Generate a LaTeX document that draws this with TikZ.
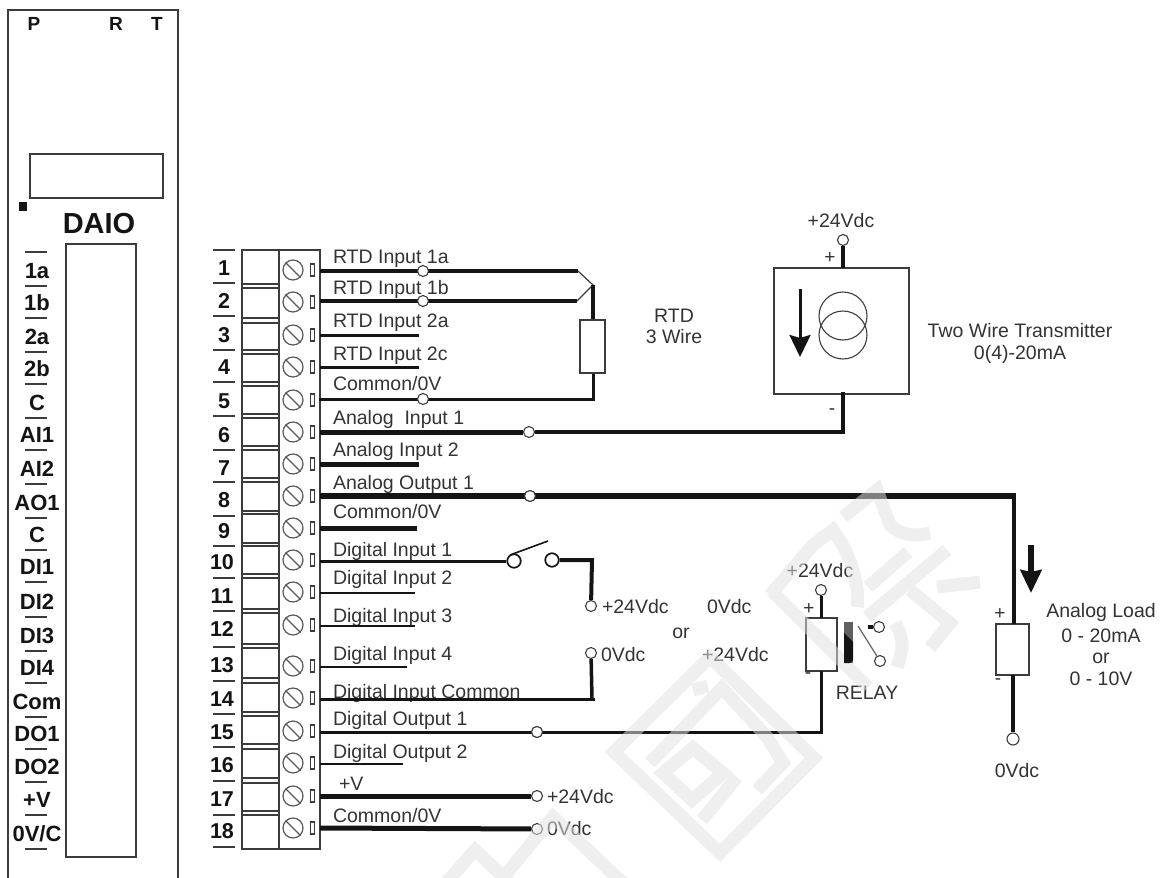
\documentclass[tikz,border=0pt]{standalone}
\usepackage{fontspec}
\setmainfont{Liberation Sans}
\usetikzlibrary{arrows.meta}
\definecolor{ink}{HTML}{141414}
\definecolor{txt}{HTML}{333333}
\definecolor{frame}{HTML}{3C3C3C}
\definecolor{mark}{HTML}{E0E0E0}
\tikzset{
  lab/.style={inner sep=0pt,outer sep=0pt,text=txt,font=\fontsize{19.5}{22}\selectfont},
  labl/.style={lab,anchor=base west},
  labc/.style={lab,anchor=base},
  pm/.style={lab,anchor=center,font=\fontsize{19}{20}\selectfont},
  num/.style={inner sep=0pt,anchor=base,text=ink,font=\bfseries\fontsize{21.5}{22}\selectfont},
  side/.style={inner sep=0pt,anchor=base,text=ink,font=\bfseries\fontsize{22}{22}\selectfont},
  bar/.style={draw=frame,line width=1.3pt},
  box/.style={draw=frame,line width=1.4pt,fill=white},
  term/.style={circle,draw=frame,fill=white,line width=1.1pt,minimum size=11pt,inner sep=0pt},
  bigterm/.style={term,minimum size=13.5pt,line width=1.7pt,draw=ink},
  wire/.style={draw=ink,line width=3pt},
  thinw/.style={draw=ink,line width=2.4pt},
  thick w/.style={draw=ink,line width=5pt},
  screw/.style={circle,draw=frame!85,line width=1.2pt,minimum size=20pt,inner sep=0pt},
}
\begin{document}
\begin{tikzpicture}[x=1pt,y=-1pt]
\useasboundingbox (0,0) rectangle (1162,878);
% left instrument panel
\draw[draw=frame,line width=1.6pt] (8,878) -- (8,10) -- (178,10) -- (178,878);
\node[side,font=\bfseries\fontsize{19}{20}\selectfont] (lp) at (34,30) {P};
\node[side,font=\bfseries\fontsize{19}{20}\selectfont] (lr) at (116,30) {R};
\node[side,font=\bfseries\fontsize{19}{20}\selectfont] (lt) at (157,30) {T};
\draw[box] (30,154) rectangle (163,198);
\fill[ink] (19,202) rectangle (27,211);
\node[side,font=\bfseries\fontsize{29}{30}\selectfont] (daio) at (99,233) {DAIO};
\draw[box] (66,244) rectangle (136,857);
\foreach \y in {252,286,318,352,384,418,450,484,518,550,582,617,651,683,717,749,782,815,849}
  \draw[bar] (25,\y) -- (47,\y);
\foreach \t/\y [count=\i] in {1a/278,1b/310,2a/344,2b/376,C/410,AI1/442,AI2/476,AO1/510,C/542,DI1/574,DI2/609,DI3/643,DI4/675,Com/709,DO1/741,DO2/774,+V/807,{0V/C}/841}
  \node[side] (sl\i) at (37,\y) {\t};
% terminal block
\draw[box] (242,250) rectangle (320,849);
\draw[frame,line width=1.4pt] (279,250) -- (279,849);
\foreach \a/\b in {250/284,288/318,323/350,354/382,386/414,418/446,450/478,482/511,514/543,546/574,578/609,613/644,648/678,683/712,716/744,749/778,783/811,815/849}
  \draw[frame,line width=1.3pt] (279,\a) -- (242,\a) -- (242,\b) -- (279,\b);
\foreach \y in {250,283,316,350,382,416,450,482,516,546,578,611,647,681,714,747,781,815,847}
  \draw[bar] (213,\y) -- (235,\y);
\foreach \t/\y/\x in {1/275/224,2/308/224,3/342/224,4/374/224,5/408/224,6/442/224,7/475/224,8/507/224,9/538/224,10/569/222,11/603/222,12/636/222,13/672/222,14/706/222,15/739/222,16/772/222,17/806/222,18/838/222}
  \node[num] (n\t) at (\x,\y) {\t};
\foreach \n/\y/\s in {1/271/270,2/301/302,3/335/335,4/367/367,5/399/400,6/432/432,7/464/464,8/496/496,9/528/528,10/561/560,11/593/592,12/626/625,13/667/666,14/699/698,15/732/731,16/764/763,17/796/796,18/828/828} {
  \coordinate (t\n) at (320,\y);
  \node[screw] (s\n) at (293,\s) {};
  \draw[frame!85,line width=1.2pt] (s\n.135) -- (s\n.-45);
  \draw[frame,line width=1.2pt] (310.5,\s-6) rectangle (314.5,\s+6);
}
% wire labels
\foreach \t/\y [count=\i] in {RTD Input 1a/263,RTD Input 1b/294,RTD Input 2a/327,RTD Input 2c/360,{Common/0V}/390,Analog\ \ Input 1/424,Analog Input 2/456,Analog Output 1/489,{Common/0V}/518,Digital Input 1/556,Digital Input 2/584,Digital Input 3/622,Digital Input 4/660,Digital Input Common/698,Digital Output 1/725,Digital Output 2/758,{Common/0V}/822}
  \node[labl] (w\i) at (333,\y) {\t};
\node[labl] (wv) at (339,790) {+V};
% RTD
\coordinate (j1) at (578,271); \coordinate (j2) at (577,301); \coordinate (jr) at (593,285);
\coordinate (rb) at (593,399);
\draw[wire,line width=3.5pt] (t1) -- (j1);
\draw[wire,line width=3.5pt] (t2) -- (j2);
\draw[draw=frame,line width=1.2pt] (j1) -- (jr) -- (j2);
\draw[wire,line width=3.6pt] (jr) -- (593,320);
\draw[wire,line width=3pt,line cap=rect] (t5) -- (rb) -- (593,373);
\node[box,minimum width=25pt,minimum height=53pt,inner sep=0pt] (rtd) at (592.5,346.5) {};
\draw[wire] (t3) -- (419,335);
\draw[wire] (t4) -- (419,367);
\node[term] (c1) at (423,271) {};
\node[term] (c2) at (423,301) {};
\node[term] (c5) at (423,399) {};
\node[labc] (rtd1) at (674,322) {RTD};
\node[labc] (rtd2) at (674,343) {3 Wire};
% transmitter
\node[box,minimum width=135pt,minimum height=126pt,inner sep=0pt] (tx) at (841.5,331) {};
\node[term] (c6) at (529,432) {};
\coordinate (txj) at (843,432);
\draw[wire,line width=5pt] (t6) -- (c6);
\draw[wire,line width=3.5pt] (c6) -- (txj);
\draw[wire,line width=4.5pt,line cap=rect] (txj) -- (843,394);
\node[term] (c6t) at (843,240) {};
\draw[wire,line width=4pt] (c6t) -- (843,268);
\node[labc] (tv) at (841,227) {+24Vdc};
\node[pm] (tp) at (830,258) {+};
\node[pm] (tm) at (832,412) {-};
\draw[frame,line width=1.1pt] (843,316) circle[radius=24pt] (843,335) circle[radius=24pt];
\coordinate (a1) at (800,289); \coordinate (a2) at (800,357);
\draw[ink,line width=3pt,-{Stealth[length=22pt,width=21pt,inset=3pt]}] (a1) -- (a2);
\node[labc] (tw1) at (1020,337) {Two Wire Transmitter};
\node[labc] (tw2) at (1020,359) {0(4)-20mA};
% short stubs
\draw[thick w] (t7) -- (419,464);
\draw[thick w] (t9) -- (417,528);
% analog output and load
\node[term] (c8) at (530,496) {};
\node[box,minimum width=33pt,minimum height=51pt,inner sep=0pt] (load) at (1012.5,649.5) {};
\node[term,minimum size=12pt] (c8b) at (1013,739) {};
\coordinate (lj) at (1014,496);
\draw[wire,line width=5.5pt] (t8) -- (lj);
\draw[wire,line width=4pt] (1014,493) -- (1014,624);
\draw[wire,line width=3.5pt] (1013,675) -- (c8b);
\node[term] at (c8) {};
\coordinate (a3) at (1031,545); \coordinate (a4) at (1031,593);
\draw[ink,line width=6pt,-{Stealth[length=23pt,width=21pt,inset=2pt]}] (a3) -- (a4);
\node[pm] (lp1) at (1000,614) {+};
\node[pm] (lm1) at (998,682) {-};
\node[labc] (al1) at (1101,617) {Analog Load};
\node[labc] (al2) at (1101,642) {0 - 20mA};
\node[labc] (al3) at (1101,663) {or};
\node[labc] (al4) at (1101,685) {0 - 10V};
\node[labc] (al5) at (1017,777) {0Vdc};
% digital inputs
\node[bigterm] (sw1) at (514,561) {};
\node[bigterm] (sw2) at (552,560) {};
\coordinate (dj) at (592,560);
\node[term] (dp) at (591,606) {};
\draw[wire] (t10) -- (sw1);
\draw[wire,line width=4pt] (sw2) -- (dj) -- (dp);
\draw[draw=ink,line width=1.6pt] (510,555) -- (548,541);
\draw[thinw] (t11) -- (415,593);
\draw[thinw] (t12) -- (415,626);
\draw[thinw] (t13) -- (407,667);
\node[term] (dn) at (591,653) {};
\coordinate (dk) at (592,699);
\draw[wire] (t14) -- (595,699);
\draw[wire,line width=3.5pt] (dk) -- (dn);
\node[labl] (d1) at (602,613) {+24Vdc};
\node[labl] (d2) at (707,613) {0Vdc};
\node[labc] (d3) at (681,638) {or};
\node[labl] (d4) at (601,661) {0Vdc};
\node[labl] (d5) at (702,661) {+24Vdc};
% digital output and relay
\node[term] (c15) at (537,732) {};
\node[box,minimum width=31pt,minimum height=53pt,inner sep=0pt] (rel) at (821.5,644.5) {};
\coordinate (rj) at (821,732);
\draw[wire] (t15) -- (rj) -- (821,671);
\node[term] at (c15) {};
\node[term] (rt) at (821,590) {};
\draw[wire] (rt) -- (821,618);
\node[labc] (rv) at (820,577) {+24Vdc};
\node[pm] (rp) at (809,609) {+};
\node[pm] (rm) at (808,676) {-};
\node[term] (k1) at (879,627) {};
\node[term] (k2) at (880,661) {};
\draw[ink,line width=3.5pt] (868,627) -- (k1);
\draw[draw=frame!80,line width=1.2pt] (858,626) -- (k2);
\node[labc] (rl) at (867,699) {RELAY};
\draw[thinw] (t16) -- (403,764);
% supply
\node[term] (c17) at (537,796) {};
\node[term] (c18) at (537,829) {};
\draw[thick w] (t17) -- (c17);
\draw[thick w] (t18) -- (c18);
\node[labl] (p1) at (547,803) {+24Vdc};
\node[labl] (p2) at (547,835) {0Vdc};
% pale overprint
\draw[draw=mark,opacity=.53,line width=13pt,line join=miter]
  (614,752) -- (710,657) -- (814,758) -- (720,853) -- cycle
  (650,763) -- (722,688) -- (767,737) -- (783,763) -- (757,790)
  (693,690) -- (708,686)
  (663,773) -- (693,748) -- (723,773) -- (692,800) -- cycle
  (702,820) -- (737,777)
  (770,595) -- (813,545) -- (833,530) .. controls (853,557) and (860,590) .. (857,607)
  (772,591) -- (868,687)
  (843,517) -- (877,490) -- (890,525) .. controls (900,535) and (915,537) .. (930,533)
  (868,587) -- (908,552)
  (867,617) -- (947,550)
  (910,590) -- (950,623) -- (930,648)
  (937,587) -- (980,582)
  (895,623) .. controls (905,640) and (903,650) .. (897,667)
  (497,885) -- (553,817) -- (625,885)
  (440,890) -- (475,850) -- (512,885);
% relay armature, on top
\fill[gray!75!black] (844,622) rectangle (853,663);
\fill[ink] (844,633) -- (853,642) -- (853,660) -- (850,663) -- (844,663) -- cycle;
\end{tikzpicture}
\end{document}
